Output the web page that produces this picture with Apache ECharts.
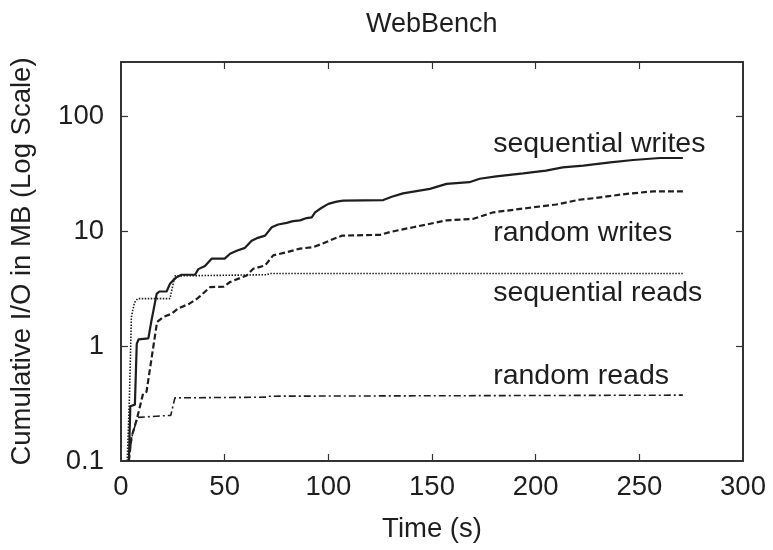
<!DOCTYPE html>
<html>
<head>
<meta charset="utf-8">
<title>WebBench</title>
<script src="https://cdn.jsdelivr.net/npm/echarts@6/dist/echarts.min.js"></script>
<style>
  html, body { margin: 0; padding: 0; background: #fff; }
  #chart { width: 773px; height: 550px; }
</style>
</head>
<body>
<div id="chart"></div>
<script>
// Cumulative I/O over time for the WebBench workload (MB, log scale)
const seqWritesTime = [3.8, 4.5, 6.7, 7.6, 8.5, 13.2, 14.5, 17.2, 18.5, 22, 23.6, 25.2, 26.8, 29.2, 35.7, 37.3, 40.5, 43.7, 50, 52.6, 55.8, 59.8, 63, 66, 69.5, 72.7, 75.8, 79.9, 83, 86.3, 89.6, 92, 93.6, 96.8, 100, 104, 107.2, 126.5, 130.6, 136, 149, 157, 168, 173, 181, 194, 205, 213, 223, 236, 247, 260, 271];
const seqWritesMB   = [0.1, 0.3, 0.31, 1.05, 1.15, 1.17, 1.6, 2.86, 3.0, 3.0, 3.5, 3.75, 4.0, 4.2, 4.2, 4.7, 5.0, 5.8, 5.8, 6.4, 6.8, 7.2, 8.3, 8.8, 9.2, 10.9, 11.5, 11.9, 12.3, 12.5, 13.1, 13.3, 14.7, 16.1, 17.4, 18.2, 18.6, 18.8, 20.1, 21.5, 23.5, 26, 26.9, 28.8, 30.2, 32.1, 33.9, 36.2, 37.5, 40, 42, 43.7, 43.7];

const randWritesTime = [3.8, 5, 7.6, 10.7, 12.3, 17.4, 20.5, 24.4, 27.5, 33, 36.5, 38, 43, 49.4, 52.6, 60.6, 63.8, 69.5, 73.4, 80, 86.3, 92.7, 97.6, 102.4, 106.5, 125, 129.8, 141, 157, 170, 179.6, 197, 210, 221, 228, 244, 257, 271];
const randWritesMB   = [0.1, 0.16, 0.23, 0.39, 0.4, 1.63, 1.8, 1.92, 2.13, 2.35, 2.58, 2.72, 3.28, 3.3, 3.63, 4.14, 4.74, 5.06, 6.2, 6.6, 7.1, 7.3, 7.9, 8.6, 9.2, 9.35, 9.9, 10.9, 12.5, 12.9, 14.7, 16.1, 17.2, 18.9, 19.5, 21.3, 22.4, 22.4];

const seqReadsTime = [3, 4, 4.5, 5, 6.5, 8, 23.6, 26, 70, 72, 271];
const seqReadsMB   = [0.1, 0.32, 0.75, 1.8, 2.4, 2.6, 2.6, 4.1, 4.2, 4.3, 4.3];

const randReadsTime = [3.5, 5.5, 8, 24, 26, 70, 71, 271];
const randReadsMB   = [0.1, 0.17, 0.24, 0.25, 0.355, 0.36, 0.367, 0.375];

const seriesNames = ['sequential writes', 'random writes', 'sequential reads', 'random reads'];
// where each curve's name is written: [time, MB]
const labelTime = 179.5;
const labelMB = [58, 9.7, 2.9, 0.55];

const xTicks = [0, 50, 100, 150, 200, 250, 300];
const yTicks = [0.1, 1, 10, 100];

const FONT = '"Liberation Sans", Arial, Helvetica, sans-serif';
const INK = '#1e1e1e';
const FRAME = '#333';

function pairs(t, v) { return t.map((x, i) => [x, v[i]]); }

const styles = [
  { width: 2.2, type: 'solid' },
  { width: 2.2, type: [6, 3] },
  { width: 1.6, type: [1.5, 1.5] },
  { width: 1.6, type: [7, 3, 2, 3] }
];
const dataSets = [
  pairs(seqWritesTime, seqWritesMB),
  pairs(randWritesTime, randWritesMB),
  pairs(seqReadsTime, seqReadsMB),
  pairs(randReadsTime, randReadsMB)
];

const series = dataSets.map((d, i) => ({
  name: seriesNames[i],
  type: 'line',
  data: d,
  showSymbol: false,
  symbol: 'none',
  animation: false,
  lineStyle: { color: INK, width: styles[i].width, type: styles[i].type },
  markPoint: {
    symbol: 'circle',
    symbolSize: 0,
    animation: false,
    data: [{ coord: [labelTime, labelMB[i]], name: seriesNames[i] }],
    label: {
      show: true,
      position: 'right',
      distance: 0,
      formatter: '{b}',
      color: INK,
      fontFamily: FONT,
      fontSize: 28.5
    }
  }
}));

const baseX = {
  type: 'value', min: 0, max: 300, interval: 50,
  splitLine: { show: false },
  axisLine: { show: true, onZero: false, lineStyle: { color: FRAME, width: 2 } },
  axisTick: { show: true, inside: true, length: 7, lineStyle: { color: FRAME, width: 1.2 }, customValues: [50, 100, 150, 200, 250] }
};
const baseY = {
  type: 'log', logBase: 10, min: 0.1, max: 300,
  splitLine: { show: false },
  minorTick: { show: false },
  axisLine: { show: true, onZero: false, lineStyle: { color: FRAME, width: 2 } },
  axisTick: { show: true, inside: true, length: 7, lineStyle: { color: FRAME, width: 1.2 }, customValues: [1, 10, 100] }
};

const chart = echarts.init(document.getElementById('chart'), null, { renderer: 'canvas' });
chart.setOption({
  backgroundColor: '#fff',
  animation: false,
  title: {
    text: 'WebBench',
    left: 361, top: 6,
    textStyle: { fontFamily: FONT, fontSize: 27, fontWeight: 'normal', color: INK }
  },
  grid: { left: 121, right: 30, top: 62, bottom: 89, containLabel: false },
  xAxis: [
    Object.assign({}, baseX, {
      position: 'bottom',
      name: 'Time (s)', nameLocation: 'middle', nameGap: 54,
      nameTextStyle: { fontFamily: FONT, fontSize: 27.5, color: INK },
      axisLabel: { show: true, margin: 12, fontFamily: FONT, fontSize: 27.5, color: INK, customValues: xTicks }
    }),
    Object.assign({}, baseX, { position: 'top', axisLabel: { show: false } })
  ],
  yAxis: [
    Object.assign({}, baseY, {
      position: 'left',
      name: 'Cumulative I/O in MB (Log Scale)', nameLocation: 'middle', nameGap: 85,
      nameTextStyle: { fontFamily: FONT, fontSize: 27.5, color: INK },
      axisLabel: {
        show: true, margin: 17, fontFamily: FONT, fontSize: 27.5, color: INK,
        customValues: yTicks,
        formatter: v => String(v)
      }
    }),
    Object.assign({}, baseY, { position: 'right', axisLabel: { show: false } })
  ],
  series: series
});
</script>
</body>
</html>
